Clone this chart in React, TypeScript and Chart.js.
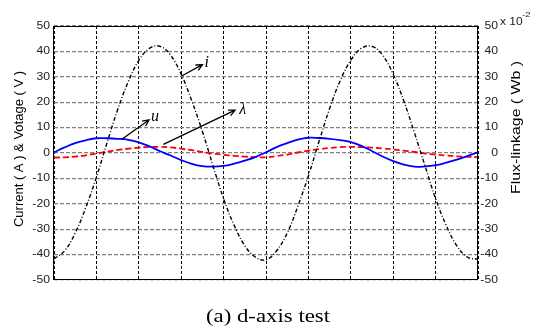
import React, { useEffect, useRef } from "react";
import { Chart, registerables } from "chart.js";

Chart.register(...registerables);

// time axis in grid divisions (no x tick labels in the original)
const time = [
  0, 0.25, 0.5, 0.75, 1, 1.25, 1.5, 1.75, 2, 2.25, 2.5, 2.75, 3, 3.25, 3.5, 3.75, 4, 4.25, 4.5, 4.75,
  5, 5.25, 5.5, 5.75, 6, 6.25, 6.5, 6.75, 7, 7.25, 7.5, 7.75, 8, 8.25, 8.5, 8.75, 9, 9.25, 9.5, 9.75, 10,
];

// current i (A)
const currentI = [
  -41.7, -38.5, -31.5, -21.5, -9.5, 4.0, 17.0, 28.0, 36.5, 41.2, 42.0, 38.5, 31.0, 20.5, 8.5, -5.0, -18.0, -28.5, -36.5, -41.0,
  -42.0, -38.5, -31.5, -21.0, -9.0, 4.5, 17.5, 28.5, 36.5, 41.2, 42.0, 38.5, 31.0, 20.5, 8.0, -5.0, -18.0, -28.5, -36.5, -41.0, -41.8,
];

// voltage u (V)
const voltageU = [
  0.3, 2.2, 3.9, 5.0, 5.8, 5.8, 5.6, 5.2, 4.2, 2.6, 0.7, -1.0, -2.8, -4.3, -5.2, -5.4, -5.1, -4.2, -3.0, -1.6,
  0.3, 2.3, 3.9, 5.3, 6.0, 5.9, 5.6, 5.1, 4.3, 2.8, 0.8, -1.4, -3.2, -4.6, -5.4, -5.3, -4.8, -3.8, -2.6, -1.2, 0.3,
];

// flux linkage lambda (x 10^-2 Wb)
const fluxLambda = [
  -1.8, -1.7, -1.4, -0.9, -0.2, 0.5, 1.2, 1.7, 2.1, 2.4, 2.4, 2.2, 1.7, 1.1, 0.4, -0.2, -0.7, -1.1, -1.4, -1.6,
  -1.7, -1.2, -0.6, 0.2, 0.9, 1.5, 2.0, 2.3, 2.4, 2.3, 2.1, 1.8, 1.4, 0.9, 0.4, -0.2, -0.6, -1.0, -1.3, -1.5, -1.6,
];

const yTicks = [50, 40, 30, 20, 10, 0, -10, -20, -30, -40, -50];

const leftTitle = "Current ( A ) & Votage ( V )";
const rightTitle = "Flux-linkage ( Wb )";
const chartCaption = "(a) d-axis test";

// arrow annotations, in data units (t, value)
const arrowNotes = [
  { text: "i", tail: [3.01, 30.3], head: [3.5, 34.8], at: [3.6, 35.5] },
  { text: "u", tail: [1.6, 5.4], head: [2.24, 13.0], at: [2.38, 14.4] },
  { text: "λ", tail: [2.58, 3.4], head: [4.27, 16.9], at: [4.45, 17.0] },
];

const SANS = '"Liberation Sans", Arial, Helvetica, sans-serif';
const SERIF = '"Liberation Serif", "Times New Roman", serif';

function stretchedText(
  ctx: CanvasRenderingContext2D,
  text: string,
  x: number,
  y: number,
  sx: number,
  rot: number
) {
  ctx.save();
  ctx.translate(x, y);
  ctx.rotate(rot);
  ctx.scale(sx, 1);
  ctx.fillText(text, 0, 0);
  ctx.restore();
}

const decorPlugin = {
  id: "decor",
  afterDraw(chart: any) {
    const { ctx, chartArea: a, scales } = chart;
    const x = scales.x;
    const y = scales.y;
    const y2 = scales.y2;
    ctx.save();
    ctx.setLineDash([]);

    // frame
    ctx.strokeStyle = "#000";
    ctx.lineWidth = 1;
    const L = Math.round(a.left) - 0.5;
    const R = Math.round(a.right) - 0.5;
    const T = Math.round(a.top) + 0.5;
    const B = Math.round(a.bottom) - 0.5;
    ctx.strokeRect(L, T, R - L, B - T);

    // tick labels
    ctx.fillStyle = "#222";
    ctx.font = `10px ${SANS}`;
    ctx.textBaseline = "middle";
    ctx.textAlign = "right";
    for (const v of yTicks) {
      stretchedText(ctx, String(v), a.left - 4, y.getPixelForValue(v), 1.22, 0);
      stretchedText(ctx, String(v), a.right + 20, y2.getPixelForValue(v), 1.22, 0);
    }
    // exponent
    ctx.textAlign = "left";
    ctx.textBaseline = "alphabetic";
    stretchedText(ctx, "x 10", a.right + 22, a.top - 1, 1.2, 0);
    ctx.font = `8px ${SANS}`;
    stretchedText(ctx, "-2", a.right + 44, a.top - 9, 1.2, 0);

    // axis titles
    ctx.fillStyle = "#000";
    ctx.font = `13px ${SANS}`;
    ctx.textAlign = "center";
    ctx.textBaseline = "middle";
    stretchedText(ctx, leftTitle, 19.5, (a.top + a.bottom) / 2 - 4, 1.0, -Math.PI / 2);
    stretchedText(ctx, rightTitle, a.right + 38, 127.5, 1.22, -Math.PI / 2);

    // caption
    ctx.font = `19px ${SERIF}`;
    stretchedText(ctx, chartCaption, (a.left + a.right) / 2 + 2, a.bottom + 37, 1.2, 0);

    // arrows
    ctx.strokeStyle = "#000";
    ctx.lineWidth = 1.3;
    ctx.font = `italic 16px ${SERIF}`;
    for (const n of arrowNotes) {
      const x0 = x.getPixelForValue(n.tail[0]);
      const y0 = y.getPixelForValue(n.tail[1]);
      const x1 = x.getPixelForValue(n.head[0]);
      const y1 = y.getPixelForValue(n.head[1]);
      ctx.beginPath();
      ctx.moveTo(x0, y0);
      ctx.lineTo(x1, y1);
      const ang = Math.atan2(y1 - y0, x1 - x0);
      const hl = 7;
      const spread = 0.45;
      ctx.moveTo(x1 - hl * Math.cos(ang - spread), y1 - hl * Math.sin(ang - spread));
      ctx.lineTo(x1, y1);
      ctx.lineTo(x1 - hl * Math.cos(ang + spread), y1 - hl * Math.sin(ang + spread));
      ctx.stroke();
      ctx.fillStyle = "#000";
      ctx.textAlign = "center";
      ctx.textBaseline = "middle";
      ctx.fillText(n.text, x.getPixelForValue(n.at[0]), y.getPixelForValue(n.at[1]));
    }
    ctx.restore();
  },
};

export default function App() {
  const ref = useRef<HTMLCanvasElement | null>(null);

  useEffect(() => {
    if (!ref.current) return;
    const pts = (vals: number[]) => vals.map((v, k) => ({ x: time[k], y: v }));
    const chart = new Chart(ref.current, {
      type: "line",
      data: {
        datasets: [
          {
            label: "i",
            data: pts(currentI),
            borderColor: "#000",
            borderWidth: 1.4,
            borderDash: [4, 2, 1, 2],
            pointRadius: 0,
            tension: 0.4,
            yAxisID: "y",
          },
          {
            label: "u",
            data: pts(voltageU),
            borderColor: "#0000ff",
            borderWidth: 1.8,
            pointRadius: 0,
            tension: 0.4,
            yAxisID: "y",
          },
          {
            label: "λ",
            data: pts(fluxLambda),
            borderColor: "#ff0000",
            borderWidth: 1.8,
            borderDash: [6, 3],
            pointRadius: 0,
            tension: 0.4,
            yAxisID: "y2",
          },
        ],
      },
      options: {
        animation: false,
        responsive: false,
        devicePixelRatio: 1,
        layout: { padding: { left: 54, right: 58, top: 26, bottom: 49 } },
        plugins: { legend: { display: false }, tooltip: { enabled: false }, title: { display: false } },
        scales: {
          x: {
            type: "linear",
            min: 0,
            max: 10,
            ticks: { display: false, stepSize: 1 },
            grid: { color: "#000", lineWidth: 1, drawTicks: false },
            border: { display: false, dash: [3, 2] },
            afterFit: (s: any) => {
              s.height = 0;
            },
          },
          y: {
            position: "left",
            min: -50,
            max: 50,
            ticks: { display: false, stepSize: 10 },
            grid: { color: "#808080", lineWidth: 1.2, drawTicks: false },
            border: { display: false, dash: [4, 2] },
            afterFit: (s: any) => {
              s.width = 0;
            },
          },
          y2: {
            position: "right",
            min: -50,
            max: 50,
            ticks: { display: false, stepSize: 10 },
            grid: { display: false, drawTicks: false },
            border: { display: false },
            afterFit: (s: any) => {
              s.width = 0;
            },
          },
        },
      } as any,
      plugins: [decorPlugin],
    });
    return () => chart.destroy();
  }, []);

  return (
    <div
      style={{
        position: "fixed",
        left: 0,
        top: 0,
        width: 536,
        height: 329,
        background: "#fff",
      }}
    >
      <canvas ref={ref} width={536} height={329} style={{ display: "block" }} />
    </div>
  );
}
